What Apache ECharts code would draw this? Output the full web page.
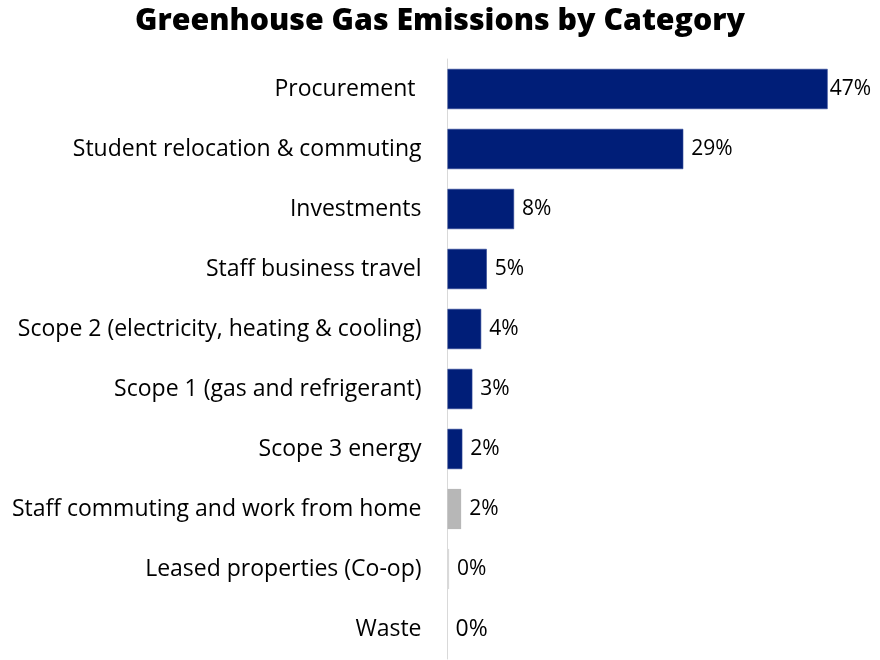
<!DOCTYPE html>
<html><head><meta charset="utf-8">
<script src="https://cdn.jsdelivr.net/npm/echarts@6/dist/echarts.min.js"></script>
<style>html,body{margin:0;padding:0;background:#fff}#c{width:880px;height:660px}</style>
</head><body><div id="c"></div>
<script>
const titleText = 'Greenhouse Gas Emissions by Category';
const categories = ['Procurement ', 'Student relocation & commuting', 'Investments', 'Staff business travel',
  'Scope 2 (electricity, heating & cooling)', 'Scope 1 (gas and refrigerant)', 'Scope 3 energy',
  'Staff commuting and work from home', 'Leased properties (Co-op)', 'Waste'];
const shares = [47.4, 29.4, 8.3, 4.9, 4.2, 3.1, 1.85, 1.7, 0.2, 0];
const greyCategories = ['Staff commuting and work from home', 'Leased properties (Co-op)'];

const NAVY = '#001E78';
const FONT = '"Open Sans", "Noto Sans", sans-serif';
const chart = echarts.init(document.getElementById('c'));
chart.setOption({
  animation: false,
  title: {
    text: titleText, left: 'center', top: 1,
    textStyle: { fontFamily: FONT, fontWeight: 800, fontSize: 30.3, color: '#000' }
  },
  grid: { left: 447.5, right: 31.5, top: 59, bottom: 1, containLabel: false },
  xAxis: { type: 'value', min: 0, max: 50, show: false },
  yAxis: {
    type: 'category', inverse: true, data: categories,
    axisLine: { show: true, lineStyle: { color: '#d9d9d9', width: 1 } },
    axisTick: { show: false },
    axisLabel: { margin: 26, fontFamily: FONT, fontSize: 23, color: '#000', padding: [8, 0, 0, 0] }
  },
  series: [{
    type: 'bar',
    barCategoryGap: '33%',
    data: shares.map((v, i) => ({
      value: v,
      itemStyle: greyCategories.includes(categories[i])
        ? { color: v < 1 ? '#d9d9d9' : '#b7b7b7' }
        : { color: NAVY, borderColor: v > 0 ? '#2b4596' : 'transparent', borderWidth: v > 0 ? 0.6 : 0 },
      label: { distance: i === 0 ? 2 : 8, fontSize: i === categories.length - 1 ? 23 : 21 }
    })),
    label: {
      show: true, position: 'right',
      formatter: p => Math.round(p.value) + '%',
      fontFamily: FONT, fontSize: 21, color: '#000', padding: [6, 0, 0, 0]
    }
  }]
});
</script></body></html>
